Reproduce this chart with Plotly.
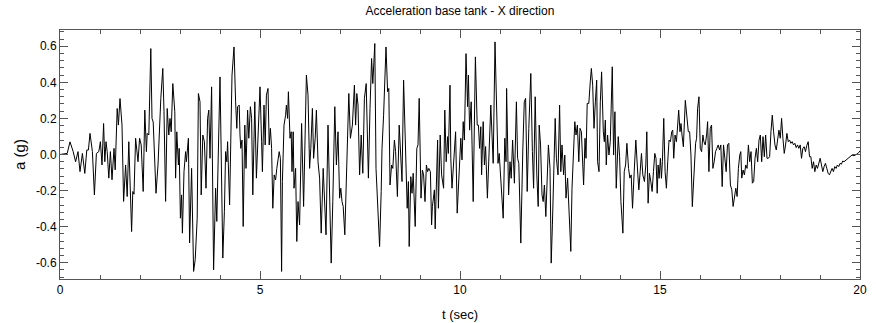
import plotly.graph_objects as go

# Base tank acceleration record, X direction (time in s, acceleration in g)
t_sec = [
    0.00, 0.18, 0.25, 0.33, 0.39, 0.45, 0.50, 0.56, 0.62, 0.67, 0.71, 0.75, 0.81, 0.86, 0.91, 0.97,
    1.01, 1.05, 1.09, 1.12, 1.15, 1.18, 1.22, 1.26, 1.30, 1.35, 1.38, 1.43, 1.46, 1.50, 1.55, 1.59,
    1.64, 1.68, 1.72, 1.79, 1.82, 1.85, 1.89, 1.92, 1.95, 1.99, 2.03, 2.08, 2.12, 2.16, 2.18, 2.22,
    2.27, 2.30, 2.33, 2.40, 2.45, 2.52, 2.54, 2.57, 2.60, 2.64, 2.68, 2.72, 2.75, 2.78, 2.82, 2.87,
    2.89, 2.92, 2.96, 2.98, 3.01, 3.04, 3.06, 3.10, 3.14, 3.16, 3.21, 3.24, 3.29, 3.34, 3.38, 3.43,
    3.46, 3.50, 3.53, 3.57, 3.61, 3.65, 3.69, 3.72, 3.75, 3.79, 3.84, 3.89, 3.92, 3.97, 4.00, 4.07,
    4.11, 4.14, 4.17, 4.19, 4.24, 4.30, 4.35, 4.39, 4.42, 4.44, 4.48, 4.50, 4.52, 4.55, 4.58, 4.62,
    4.65, 4.69, 4.72, 4.76, 4.79, 4.82, 4.87, 4.91, 4.95, 5.00, 5.04, 5.06, 5.10, 5.13, 5.16, 5.20,
    5.23, 5.26, 5.29, 5.32, 5.355, 5.39, 5.42, 5.45, 5.48, 5.51, 5.54, 5.56, 5.60, 5.64, 5.66, 5.69,
    5.71, 5.75, 5.78, 5.80, 5.83, 5.85, 5.89, 5.92, 5.95, 5.99, 6.04, 6.09, 6.12, 6.16, 6.20, 6.24,
    6.27, 6.31, 6.34, 6.38, 6.41, 6.45, 6.49, 6.53, 6.58, 6.61, 6.65, 6.70, 6.74, 6.78, 6.82, 6.87,
    6.91, 6.95, 6.99, 7.02, 7.05, 7.08, 7.12, 7.16, 7.20, 7.22, 7.26, 7.31, 7.36, 7.39, 7.42, 7.45,
    7.49, 7.53, 7.57, 7.61, 7.655, 7.71, 7.75, 7.79, 7.82, 7.87, 7.90, 7.94, 7.99, 8.03, 8.05, 8.09,
    8.13, 8.15, 8.19, 8.22, 8.25, 8.29, 8.32, 8.36, 8.39, 8.435, 8.48, 8.51, 8.55, 8.59, 8.635, 8.68,
    8.71, 8.73, 8.77, 8.80, 8.83, 8.88, 8.92, 8.95, 8.98, 9.025, 9.06, 9.09, 9.125, 9.16, 9.19, 9.22,
    9.26, 9.29, 9.31, 9.36, 9.38, 9.41, 9.44, 9.46, 9.505, 9.54, 9.59, 9.62, 9.655, 9.69, 9.71, 9.75,
    9.77, 9.80, 9.85, 9.89, 9.93, 9.98, 10.02, 10.05, 10.08, 10.11, 10.15, 10.19, 10.21, 10.24, 10.28, 10.33,
    10.385, 10.43, 10.46, 10.49, 10.52, 10.54, 10.58, 10.61, 10.64, 10.685, 10.73, 10.77, 10.80, 10.83, 10.875, 10.92,
    10.95, 10.98, 11.02, 11.05, 11.08, 11.12, 11.15, 11.165, 11.19, 11.215, 11.25, 11.28, 11.315, 11.36, 11.41, 11.44,
    11.47, 11.52, 11.57, 11.607, 11.64, 11.68, 11.72, 11.77, 11.81, 11.84, 11.88, 11.92, 11.955, 11.98, 12.014, 12.05,
    12.08, 12.11, 12.146, 12.18, 12.21, 12.25, 12.28, 12.31, 12.345, 12.38, 12.41, 12.45, 12.49, 12.52, 12.55, 12.59,
    12.62, 12.65, 12.69, 12.735, 12.77, 12.80, 12.835, 12.87, 12.90, 12.935, 12.97, 13.00, 13.035, 13.09, 13.126, 13.15,
    13.18, 13.22, 13.26, 13.284, 13.317, 13.35, 13.384, 13.417, 13.44, 13.475, 13.508, 13.54, 13.583, 13.608, 13.633, 13.657,
    13.69, 13.724, 13.757, 13.807, 13.84, 13.873, 13.906, 13.956, 13.99, 14.023, 14.072, 14.106, 14.14, 14.172, 14.214, 14.247,
    14.28, 14.313, 14.355, 14.396, 14.446, 14.471, 14.504, 14.537, 14.57, 14.612, 14.645, 14.67, 14.703, 14.736, 14.77, 14.803,
    14.836, 14.87, 14.90, 14.93, 14.953, 14.978, 15.01, 15.036, 15.06, 15.094, 15.127, 15.16, 15.193, 15.226, 15.26, 15.293,
    15.318, 15.343, 15.376, 15.41, 15.442, 15.467, 15.50, 15.525, 15.55, 15.584, 15.633, 15.675, 15.708, 15.741, 15.774, 15.808,
    15.832, 15.866, 15.89, 15.915, 15.94, 15.974, 16.007, 16.04, 16.073, 16.098, 16.131, 16.165, 16.19, 16.223, 16.256, 16.289,
    16.322, 16.355, 16.389, 16.422, 16.455, 16.488, 16.521, 16.555, 16.588, 16.621, 16.654, 16.687, 16.72, 16.76, 16.795, 16.828,
    16.86, 16.895, 16.928, 16.96, 16.994, 17.02, 17.044, 17.077, 17.11, 17.143, 17.177, 17.21, 17.243, 17.276, 17.309, 17.342,
    17.376, 17.409, 17.442, 17.475, 17.508, 17.542, 17.575, 17.608, 17.641, 17.675, 17.708, 17.741, 17.774, 17.807, 17.84, 17.874,
    17.907, 17.94, 17.973, 18.007, 18.04, 18.073, 18.106, 18.139, 18.172, 18.206, 18.239, 18.272, 18.305, 18.339, 18.372, 18.405,
    18.438, 18.471, 18.505, 18.538, 18.571, 18.604, 18.637, 18.67, 18.705, 18.738, 18.771, 18.805, 18.838, 18.871, 18.904, 18.937,
    18.97, 19.004, 19.037, 19.07, 19.103, 19.136, 19.17, 19.203, 19.236, 19.269, 19.302, 19.336, 19.369, 19.402, 19.435, 19.468,
    19.502, 19.535, 19.568, 19.601, 19.65, 19.70, 19.75, 19.80, 19.85, 19.90, 19.95, 20.00,
]

accel_g = [
    0.000, 0.006, 0.070, 0.016, -0.040, 0.016, -0.095, 0.006, -0.105, 0.025, 0.025, 0.117, 0.016, -0.224, 0.006, 0.016,
    0.071, -0.058, 0.172, -0.040, 0.071, 0.016, -0.131, 0.016, -0.140, 0.034, -0.085, 0.255, 0.163, 0.310, 0.163, -0.260,
    -0.058, -0.233, 0.071, -0.427, -0.205, -0.220, 0.090, 0.034, -0.040, 0.090, 0.053, -0.205, 0.246, 0.016, 0.117, 0.108,
    0.587, 0.200, 0.180, -0.215, -0.058, 0.310, 0.366, 0.477, 0.237, -0.260, 0.255, 0.108, 0.200, 0.126, 0.393, 0.237,
    -0.131, 0.126, -0.058, 0.034, -0.353, -0.224, -0.436, -0.095, 0.016, -0.040, 0.090, -0.490, -0.077, -0.648, -0.583, -0.353,
    0.338, 0.292, -0.224, 0.108, 0.071, -0.187, 0.200, 0.246, -0.021, 0.375, -0.639, -0.187, -0.371, 0.163, 0.430, -0.574,
    -0.316, 0.016, -0.040, 0.071, -0.279, 0.440, 0.596, 0.292, 0.145, 0.265, 0.274, 0.108, 0.034, 0.080, -0.399, 0.163,
    -0.077, 0.246, 0.090, 0.265, 0.200, -0.224, 0.292, -0.131, 0.108, 0.375, 0.071, -0.095, 0.274, 0.053, 0.329, 0.366,
    0.053, 0.145, 0.034, -0.298, -0.113, -0.141, -0.077, -0.012, 0.016, -0.021, -0.648, -0.150, 0.163, 0.218, 0.274, 0.200,
    0.348, 0.090, 0.126, -0.095, 0.126, -0.187, -0.077, -0.482, -0.261, -0.390, 0.172, -0.288, -0.021, 0.440, 0.329, -0.077,
    0.034, 0.255, -0.021, 0.090, 0.246, -0.040, -0.131, -0.436, -0.077, -0.261, -0.445, 0.163, -0.298, -0.602, -0.261, 0.265,
    -0.058, 0.126, -0.242, -0.187, -0.261, -0.288, -0.445, -0.131, 0.163, 0.338, 0.090, 0.163, 0.384, 0.163, 0.338, 0.274,
    -0.113, 0.108, -0.104, 0.311, 0.393, -0.131, 0.255, 0.532, 0.393, 0.615, -0.077, -0.261, -0.510, -0.205, 0.034, 0.218,
    0.495, 0.596, 0.348, 0.366, -0.169, -0.058, -0.077, 0.080, 0.016, -0.233, 0.163, 0.016, -0.150, 0.412, -0.021, -0.298,
    -0.150, -0.510, -0.123, -0.215, -0.104, -0.399, 0.034, 0.053, 0.311, -0.242, -0.086, -0.113, -0.261, -0.058, -0.095, -0.077,
    -0.095, -0.390, -0.288, -0.196, -0.412, -0.150, 0.080, -0.298, 0.108, -0.113, -0.187, 0.246, -0.040, 0.099, 0.006, 0.384,
    -0.021, -0.187, 0.016, 0.126, -0.325, -0.040, 0.090, -0.030, 0.182, 0.080, 0.559, 0.265, 0.440, 0.135, 0.292, -0.261,
    0.541, 0.163, 0.163, 0.034, 0.154, -0.113, 0.182, -0.058, 0.044, -0.242, 0.108, 0.274, 0.108, -0.049, 0.624, 0.163,
    -0.049, 0.006, -0.132, -0.215, -0.353, 0.090, -0.040, 0.366, 0.071, -0.224, -0.040, -0.132, 0.080, -0.159, 0.292, -0.021,
    -0.049, -0.491, 0.025, 0.292, 0.311, -0.205, 0.145, 0.449, 0.016, -0.187, 0.320, -0.113, -0.288, 0.163, 0.053, -0.224,
    -0.261, -0.169, -0.344, -0.150, 0.053, -0.077, -0.602, -0.390, -0.086, 0.200, -0.021, -0.113, 0.274, -0.095, 0.053, -0.113,
    -0.003, -0.242, -0.131, -0.325, -0.537, -0.187, -0.021, 0.182, 0.108, 0.163, -0.040, 0.145, 0.126, -0.169, 0.090, -0.021,
    0.283, 0.283, 0.412, 0.477, 0.384, 0.145, 0.292, 0.412, -0.040, -0.095, 0.292, 0.458, 0.126, 0.071, 0.191, -0.058,
    0.108, -0.003, 0.071, 0.486, -0.003, 0.237, -0.187, 0.099, -0.012, -0.261, -0.436, -0.095, -0.058, 0.062, -0.077, -0.131,
    -0.113, -0.298, -0.095, 0.080, -0.113, -0.196, -0.095, 0.006, -0.113, -0.150, -0.058, 0.126, -0.270, -0.104, -0.150, -0.205,
    -0.095, 0.006, -0.021, -0.215, -0.058, -0.132, -0.021, -0.132, -0.040, 0.200, -0.095, -0.187, -0.040, 0.080, 0.071, 0.126,
    0.135, -0.021, 0.108, 0.071, 0.163, 0.246, 0.126, 0.172, 0.108, 0.043, 0.300, 0.182, 0.126, 0.126, -0.003, -0.289,
    -0.169, -0.021, 0.062, 0.090, 0.255, 0.320, 0.034, 0.016, 0.108, 0.071, 0.053, 0.108, 0.182, -0.095, 0.145, 0.163,
    -0.077, -0.040, 0.016, 0.034, 0.053, 0.025, 0.053, -0.178, 0.053, -0.021, -0.095, 0.053, 0.062, -0.169, -0.196, -0.288,
    -0.242, -0.187, -0.233, -0.077, -0.003, 0.016, -0.131, -0.086, -0.113, -0.058, -0.077, 0.053, -0.040, 0.016, -0.159, -0.150,
    -0.021, 0.034, -0.040, 0.080, 0.108, -0.040, 0.099, -0.012, 0.108, -0.021, -0.021, -0.012, 0.126, 0.218, 0.126, 0.053,
    0.025, 0.071, 0.135, 0.090, 0.200, 0.090, 0.006, 0.053, 0.117, 0.071, 0.080, 0.062, 0.071, 0.053, 0.062, 0.038,
    0.053, 0.034, 0.053, -0.021, 0.034, 0.043, 0.016, 0.050, 0.071, -0.012, -0.012, -0.077, -0.040, -0.095, -0.058, -0.077,
    -0.040, -0.021, -0.058, -0.095, -0.067, -0.049, -0.077, -0.104, -0.113, -0.095, -0.077, -0.095, -0.067, -0.077, -0.058, -0.067,
    -0.049, -0.054, -0.036, -0.040, -0.030, -0.021, -0.012, -0.003, -0.007, 0.001, 0.006, 0.020,
]

x_tick_vals = [0, 5, 10, 15, 20]
x_tick_text = ["0", "5", "10", "15", "20"]
y_tick_vals = [-0.6, -0.4, -0.2, 0.0, 0.2, 0.4, 0.6]
y_tick_text = ["-0.6", "-0.4", "-0.2", "0.0", "0.2", "0.4", "0.6"]

FONT = "Liberation Sans, Arial, Helvetica, sans-serif"
AXIS_COLOR = "#555555"

fig = go.Figure(
    go.Scatter(
        x=t_sec,
        y=accel_g,
        mode="lines",
        line=dict(color="black", width=1),
        hoverinfo="skip",
    )
)

axis_common = dict(
    showgrid=False,
    zeroline=False,
    showline=True,
    linecolor=AXIS_COLOR,
    linewidth=1,
    mirror="allticks",
    ticks="inside",
    ticklen=8,
    tickcolor=AXIS_COLOR,
    tickwidth=1,
    automargin=False,
    tickfont=dict(family=FONT, size=12, color="black"),
)

fig.update_layout(
    width=876,
    height=323,
    margin=dict(l=60, r=16, t=30, b=44, autoexpand=False),
    paper_bgcolor="white",
    plot_bgcolor="white",
    showlegend=False,
    title=dict(
        text="Acceleration base tank - X direction",
        x=0.5,
        xref="paper",
        y=1,
        yref="container",
        yanchor="top",
        pad=dict(t=7),
        font=dict(family=FONT, size=12, color="black"),
    ),
    xaxis=dict(
        axis_common,
        range=[0, 20],
        tickvals=x_tick_vals,
        ticktext=x_tick_text,
        minor=dict(ticks="inside", ticklen=4, dtick=1, tickcolor=AXIS_COLOR, showgrid=False),
        title=dict(text="t (sec)", font=dict(family=FONT, size=13, color="black"), standoff=13),
    ),
    yaxis=dict(
        axis_common,
        range=[-0.69, 0.69],
        tickvals=y_tick_vals,
        ticktext=y_tick_text,
        minor=dict(ticks="inside", ticklen=4, dtick=0.04, tick0=0, tickcolor=AXIS_COLOR, showgrid=False),
        title=dict(text="a (g)", font=dict(family=FONT, size=15, color="black"), standoff=6),
    ),
)

fig.write_html("out.html")
